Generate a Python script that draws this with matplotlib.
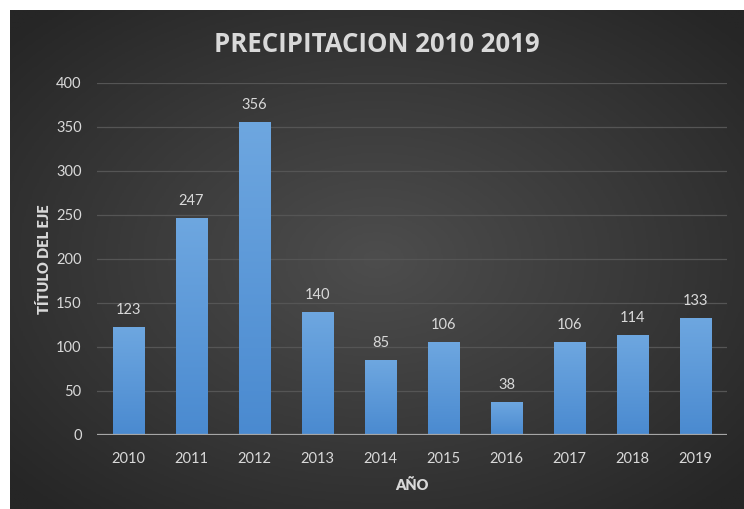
import numpy as np
import matplotlib.pyplot as plt
from matplotlib.colors import LinearSegmentedColormap

years = ["2010", "2011", "2012", "2013", "2014", "2015", "2016", "2017", "2018", "2019"]
precip = [123, 247, 356, 140, 85, 106, 38, 106, 114, 133]

plt.rcParams["font.family"] = ["Lato", "DejaVu Sans"]
txt = "#d9d9d9"

fig = plt.figure(figsize=(7.44, 5.09), dpi=100, facecolor="white")

# dark panel with a soft radial light in the middle
bg = fig.add_axes([10 / 744, 0, 734 / 744, 499 / 509])
bg.set_axis_off()
yy, xx = np.mgrid[-1:1:300j, -1:1:400j]
r = np.sqrt(xx ** 2 + yy ** 2)
bg_cmap = LinearSegmentedColormap.from_list("bg", ["#4d4d4d", "#3a3a3a", "#262626"])
bg.imshow(r, cmap=bg_cmap, aspect="auto", extent=[0, 1, 0, 1], vmin=0, vmax=1.35)

ax = fig.add_axes([97 / 744, 74 / 509, 630 / 744, 352 / 509])
ax.patch.set_alpha(0)
x = np.arange(len(years))
bars = ax.bar(x, precip, width=0.5, color="#5b9bd5", zorder=2)

# vertical gradient inside each bar
bar_cmap = LinearSegmentedColormap.from_list("bar", ["#4a8ad0", "#6ea7e0"])
grad = np.linspace(0, 1, 256).reshape(-1, 1)
for b in bars:
    bx, by = b.get_x(), b.get_y()
    im = ax.imshow(grad, cmap=bar_cmap, origin="lower", aspect="auto",
                   extent=[bx, bx + b.get_width(), by, by + b.get_height()], zorder=3)
    im.set_clip_path(b)

ax.set_xlim(-0.5, len(years) - 0.5)
ax.set_ylim(0, 400)
ax.set_yticks(range(0, 401, 50))
ax.set_xticks(x, years)
ax.grid(axis="y", color="#555555", linewidth=0.9, zorder=0)
for s in ax.spines.values():
    s.set_visible(False)
ax.axhline(0, color="#a6a6a6", linewidth=1.6, zorder=4)
ax.tick_params(length=0, colors=txt, labelsize=10.5)
ax.tick_params(axis="x", pad=12)
ax.tick_params(axis="y", pad=11)

for xi, v in zip(x, precip):
    ax.annotate(str(v), (xi, v), xytext=(0, 7), textcoords="offset points",
                ha="center", va="bottom", color=txt, fontsize=10.5)

ax.set_xlabel("AÑO", color=txt, fontsize=10.5, fontweight="heavy", labelpad=9)
ax.set_ylabel("TÍTULO DEL EJE", color=txt, fontsize=10.5, fontweight="heavy", labelpad=4)

fig.text(377 / 744, 1 - 45 / 509, "PRECIPITACION 2010 2019", ha="center", va="center",
         color=txt, fontsize=18.5, fontweight="bold", family=["Open Sans", "DejaVu Sans"])

fig.savefig("out.png", dpi=100, facecolor="white")
